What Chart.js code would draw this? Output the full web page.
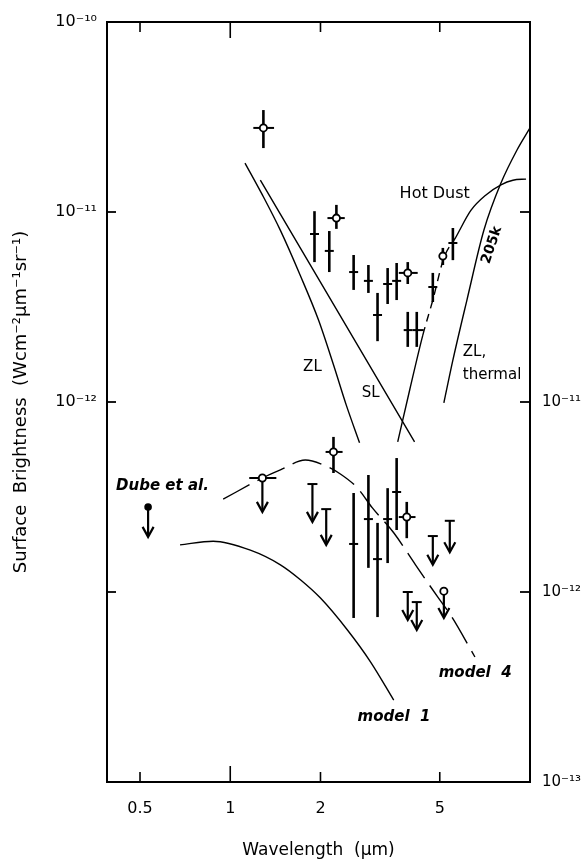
<!DOCTYPE html>
<html>
<head>
<meta charset="utf-8">
<script src="https://cdn.jsdelivr.net/npm/chart.js@4.4.0/dist/chart.umd.min.js"></script>
<style>
  html, body { margin: 0; padding: 0; background: #fff; }
  #wrap { width: 583px; height: 861px; }
</style>
</head>
<body>
<div id="wrap"><canvas id="chart"></canvas></div>
<script>
// axes
const xTicks = [0.5, 1, 2, 5];
const xTickLabels = ["0.5", "1", "2", "5"];
const yLeftTicks = [1e-10, 1e-11, 1e-12];
const yLeftLabels = ["10⁻¹⁰", "10⁻¹¹", "10⁻¹²"];
const yLeftMarks = [1e-11, 1e-12, 1e-13];
const yRightTicks = [1e-11, 1e-12, 1e-13];
const yRightLabels = ["10⁻¹¹", "10⁻¹²", "10⁻¹³"];
const yRightMarks = [1e-10, 1e-11, 1e-12];

// upper panel curves (left axis)
const zlX = [1.12, 1.28, 1.47, 1.71, 1.97, 2.21, 2.44, 2.70];
const zlY = [1.81e-11, 1.23e-11, 8.0e-12, 4.66e-12, 2.70e-12, 1.57e-12, 9.6e-13, 6.1e-13];
const slX = [1.26, 4.12];
const slY = [1.47e-11, 6.17e-13];
const hdX = [3.62, 3.97, 4.39, 4.74, 5.16, 5.66, 6.35, 7.13, 8.00, 8.77, 9.70];
const hdY = [6.17e-13, 1.16e-12, 2.25e-12, 3.44e-12, 5.73e-12, 7.38e-12, 1.02e-11, 1.23e-11, 1.39e-11, 1.47e-11, 1.49e-11];
const ztX = [5.16, 5.53, 6.16, 7.02, 8.00, 9.05, 10.0];
const ztY = [9.9e-13, 1.66e-12, 3.44e-12, 8.04e-12, 1.42e-11, 2.12e-11, 2.77e-11];

// upper panel measurements (left axis)
const upX   = [1.91, 2.14, 2.58, 2.89, 3.10, 3.35, 3.59, 3.91, 4.19, 4.74, 5.53];
const upY   = [7.66e-12, 6.24e-12, 4.83e-12, 4.34e-12, 2.87e-12, 4.18e-12, 4.34e-12, 2.39e-12, 2.39e-12, 4.03e-12, 6.87e-12];
const upLo  = [5.45e-12, 4.83e-12, 3.89e-12, 3.75e-12, 2.09e-12, 3.28e-12, 3.44e-12, 1.95e-12, 1.95e-12, 3.36e-12, 5.58e-12];
const upHi  = [1.01e-11, 7.94e-12, 5.94e-12, 5.26e-12, 3.75e-12, 5.07e-12, 5.39e-12, 2.98e-12, 2.98e-12, 4.78e-12, 8.24e-12];
const upXLo = [null, null, null, null, null, null, null, 3.79, 4.06, null, null];
const upXHi = [null, null, null, null, null, null, null, 4.06, 4.42, null, null];

const upcX   = [1.29, 2.26, 3.91, 5.12];
const upcY   = [2.77e-11, 9.29e-12, 4.78e-12, 5.86e-12];
const upcLo  = [2.17e-11, 8.15e-12, 4.18e-12, 5.26e-12];
const upcHi  = [3.44e-11, 1.09e-11, 5.45e-12, 6.47e-12];
const upcXLo = [1.194, 2.11, 3.65, null];
const upcXHi = [1.40, 2.41, 4.22, null];

// lower panel (right axis)
const m4X = [0.947, 1.28, 1.47, 1.78, 2.05, 2.33, 2.66, 2.98, 3.51, 4.15, 4.92, 5.49, 6.55];
const m4Y = [3.08e-12, 3.98e-12, 4.39e-12, 4.95e-12, 4.66e-12, 4.18e-12, 3.52e-12, 2.77e-12, 2.05e-12, 1.39e-12, 9.42e-13, 7.38e-13, 4.55e-13];
const m1X = [0.680, 0.877, 1.167, 1.47, 1.714, 2.0, 2.46, 2.94, 3.51];
const m1Y = [1.77e-12, 1.85e-12, 1.66e-12, 1.39e-12, 1.16e-12, 9.29e-13, 6.31e-13, 4.28e-13, 2.70e-13];

const loX  = [2.58, 2.89, 3.10, 3.35, 3.59];
const loY  = [1.79e-12, 2.42e-12, 1.49e-12, 2.42e-12, 3.36e-12];
const loLo = [7.3e-13, 1.34e-12, 7.38e-13, 1.42e-12, 2.12e-12];
const loHi = [3.32e-12, 4.13e-12, 2.31e-12, 3.52e-12, 5.07e-12];

const locX   = [2.21, 3.88];
const locY   = [5.46e-12, 2.48e-12];
const locLo  = [4.23e-12, 1.92e-12];
const locHi  = [6.55e-12, 2.98e-12];
const locXLo = [2.08, 3.65];
const locXHi = [2.37, 4.15];

const limX   = [1.88, 2.09, 3.91, 4.19, 4.74, 5.40];
const limY   = [3.70e-12, 2.73e-12, 1.0e-12, 8.85e-13, 1.97e-12, 2.37e-12];
const limTip = [2.34e-12, 1.77e-12, 7.13e-13, 6.31e-13, 1.39e-12, 1.62e-12];

const limcX   = [1.28, 5.16];
const limcY   = [3.98e-12, 1.01e-12];
const limcTip = [2.64e-12, 7.3e-13];
const limcXLo = [1.157, null];
const limcXHi = [1.425, null];

const dubeX = [0.532];
const dubeY = [2.80e-12];
const dubeTip = [1.95e-12];

// text annotations, placed in data coordinates
const notes = [
  { text: "Hot Dust", x: 4.81, y: 1.25e-11, axis: "y", align: "center", font: "16px 'DejaVu Sans'" },
  { text: "ZL", x: 1.88, y: 1.53e-12, axis: "y", align: "center", font: "15px 'DejaVu Sans'" },
  { text: "SL", x: 2.94, y: 1.11e-12, axis: "y", align: "center", font: "15px 'DejaVu Sans'" },
  { text: "ZL,", x: 5.97, y: 1.83e-12, axis: "y", align: "left", font: "15px 'DejaVu Sans'" },
  { text: "thermal", x: 5.97, y: 1.39e-12, axis: "y", align: "left", font: "15px 'DejaVu Sans'" },
  { text: "205k", x: 7.46, y: 6.7e-12, axis: "y", align: "center", font: "bold 14px 'DejaVu Sans'", rot: -72 },
  { text: "Dube et al.", x: 0.416, y: 3.61e-12, axis: "y2", align: "left", font: "italic bold 15px 'DejaVu Sans'" },
  { text: "model  4", x: 4.96, y: 3.75e-13, axis: "y2", align: "left", font: "italic bold 15px 'DejaVu Sans'" },
  { text: "model  1", x: 2.66, y: 2.2e-13, axis: "y2", align: "left", font: "italic bold 15px 'DejaVu Sans'" }
];

const pts = (xs, ys) => xs.map((x, i) => ({ x: x, y: ys[i] }));

function seg(ctx, x1, y1, x2, y2, w) {
  ctx.beginPath();
  ctx.lineWidth = w;
  ctx.moveTo(x1, y1);
  ctx.lineTo(x2, y2);
  ctx.stroke();
}

function curve(data, axis, extra) {
  return Object.assign({
    data: data, yAxisID: axis, showLine: true, pointRadius: 0,
    borderColor: "#000", borderWidth: 1.4, cubicInterpolationMode: "monotone", fill: false
  }, extra || {});
}

function marks(data, axis, kind, extra) {
  return Object.assign({
    data: data, yAxisID: axis, showLine: false, pointRadius: 0, marker: kind
  }, extra || {});
}

// error bars, crosses, circles and upper limit arrows
const markerPlugin = {
  id: "markers",
  afterDatasetsDraw(chart) {
    const ctx = chart.ctx;
    const xs = chart.scales.x;
    chart.data.datasets.forEach((ds, di) => {
      if (!ds.marker) return;
      const ys = chart.scales[ds.yAxisID];
      chart.getDatasetMeta(di).data.forEach((pt, i) => {
        const px = pt.x, py = pt.y;
        ctx.save();
        ctx.strokeStyle = "#000";
        ctx.fillStyle = "#000";
        if (ds.yLo) seg(ctx, px, ys.getPixelForValue(ds.yLo[i]), px, ys.getPixelForValue(ds.yHi[i]), 2.6);
        if (ds.xLo && ds.xLo[i] != null) {
          seg(ctx, xs.getPixelForValue(ds.xLo[i]), py, xs.getPixelForValue(ds.xHi[i]), py, 2);
        } else if (ds.marker === "cross") {
          seg(ctx, px - 4.5, py, px + 4.5, py, 2);
        }
        if (ds.marker === "limit") seg(ctx, px - 5, py, px + 5, py, 2);
        if (ds.tip) {
          const ty = ys.getPixelForValue(ds.tip[i]);
          seg(ctx, px, py, px, ty - 1, 2.2);
          ctx.beginPath();
          ctx.lineWidth = 2.2;
          ctx.moveTo(px - 5.5, ty - 10);
          ctx.lineTo(px, ty);
          ctx.lineTo(px + 5.5, ty - 10);
          ctx.stroke();
        }
        if (ds.marker === "circle") {
          ctx.beginPath();
          ctx.arc(px, py, 3.6, 0, Math.PI * 2);
          ctx.fillStyle = "#fff";
          ctx.fill();
          ctx.lineWidth = 1.8;
          ctx.stroke();
        }
        if (ds.marker === "dot") {
          ctx.beginPath();
          ctx.arc(px, py, 3.8, 0, Math.PI * 2);
          ctx.fill();
        }
        ctx.restore();
      });
    });
  }
};

// box with inward ticks, plus the text notes
const framePlugin = {
  id: "frame",
  afterDraw(chart) {
    const { ctx, chartArea: a, scales } = chart;
    ctx.save();
    ctx.strokeStyle = "#000";
    ctx.lineWidth = 2;
    ctx.strokeRect(a.left, a.top, a.right - a.left, a.bottom - a.top);
    xTicks.forEach(v => {
      const x = scales.x.getPixelForValue(v);
      const len = v === 1 ? 16 : 10;
      seg(ctx, x, a.bottom, x, a.bottom - len, 1.6);
      seg(ctx, x, a.top, x, a.top + len, 1.6);
    });
    yLeftMarks.forEach(v => {
      const y = scales.y.getPixelForValue(v);
      seg(ctx, a.left, y, a.left + 9, y, 1.8);
    });
    yRightMarks.forEach(v => {
      const y = scales.y2.getPixelForValue(v);
      seg(ctx, a.right, y, a.right - 10, y, 1.8);
    });
    ctx.fillStyle = "#000";
    ctx.textBaseline = "middle";
    notes.forEach(n => {
      const x = scales.x.getPixelForValue(n.x);
      const y = scales[n.axis].getPixelForValue(n.y);
      ctx.save();
      ctx.font = n.font;
      ctx.textAlign = n.align;
      ctx.translate(x, y);
      if (n.rot) ctx.rotate(n.rot * Math.PI / 180);
      ctx.fillText(n.text, 0, 0);
      ctx.restore();
    });
    ctx.restore();
  }
};

Chart.defaults.font.family = "'DejaVu Sans', sans-serif";
Chart.defaults.color = "#000";

new Chart(document.getElementById("chart"), {
  type: "scatter",
  data: {
    datasets: [
      curve(pts(zlX, zlY), "y"),
      curve(pts(slX, slY), "y"),
      curve(pts(hdX, hdY), "y", {
        segment: { borderDash: c => (c.p0.parsed.x >= 4.3 && c.p1.parsed.x <= 5.7) ? [8, 6] : undefined }
      }),
      curve(pts(ztX, ztY), "y"),
      curve(pts(m4X, m4Y), "y2", { borderDash: [30, 9] }),
      curve(pts(m1X, m1Y), "y2"),
      marks(pts(upX, upY), "y", "cross", { yLo: upLo, yHi: upHi, xLo: upXLo, xHi: upXHi }),
      marks(pts(upcX, upcY), "y", "circle", { yLo: upcLo, yHi: upcHi, xLo: upcXLo, xHi: upcXHi }),
      marks(pts(loX, loY), "y2", "cross", { yLo: loLo, yHi: loHi }),
      marks(pts(locX, locY), "y2", "circle", { yLo: locLo, yHi: locHi, xLo: locXLo, xHi: locXHi }),
      marks(pts(limX, limY), "y2", "limit", { tip: limTip }),
      marks(pts(limcX, limcY), "y2", "circle", { tip: limcTip, xLo: limcXLo, xHi: limcXHi }),
      marks(pts(dubeX, dubeY), "y2", "dot", { tip: dubeTip })
    ]
  },
  options: {
    responsive: true,
    maintainAspectRatio: false,
    animation: false,
    layout: { padding: { left: 0, right: 0, top: 22, bottom: 0 } },
    plugins: { legend: { display: false }, tooltip: { enabled: false } },
    scales: {
      x: {
        type: "logarithmic", position: "bottom", min: 0.388, max: 10,
        grid: { display: false, drawTicks: false }, border: { display: false },
        afterBuildTicks: s => { s.ticks = xTicks.map(v => ({ value: v })); },
        afterFit: s => { s.height = 79; },
        ticks: { padding: 17, autoSkip: false, maxRotation: 0, font: { size: 16 }, callback: (v, i) => xTickLabels[i] },
        title: { display: true, text: "Wavelength  (μm)", font: { size: 17 }, padding: { top: 0, bottom: 0 } }
      },
      y: {
        type: "logarithmic", position: "left", min: 1e-14, max: 1e-10,
        grid: { display: false, drawTicks: false }, border: { display: false },
        afterBuildTicks: s => { s.ticks = yLeftTicks.map(v => ({ value: v })); },
        afterFit: s => { s.width = 107; },
        ticks: { padding: 10, autoSkip: false, font: { size: 16 }, callback: (v, i) => yLeftLabels[i] },
        title: { display: true, text: "Surface  Brightness  (Wcm⁻²μm⁻¹sr⁻¹)", font: { size: 18 }, padding: { top: 11, bottom: 0 } }
      },
      y2: {
        type: "logarithmic", position: "right", min: 1e-13, max: 1e-9,
        grid: { display: false, drawTicks: false }, border: { display: false },
        afterBuildTicks: s => { s.ticks = yRightTicks.map(v => ({ value: v })); },
        afterFit: s => { s.width = 53; },
        ticks: { padding: 12, autoSkip: false, font: { size: 15 }, callback: (v, i) => yRightLabels[i] }
      }
    }
  },
  plugins: [markerPlugin, framePlugin]
});
</script>
</body>
</html>
